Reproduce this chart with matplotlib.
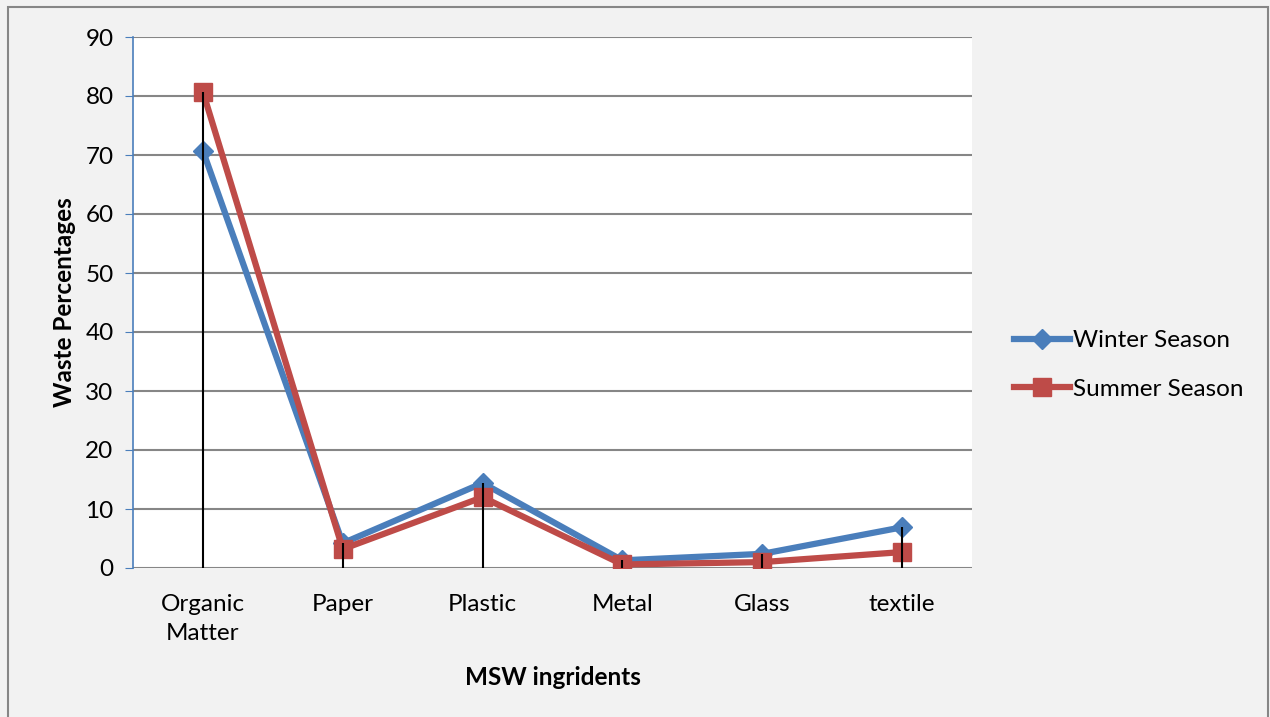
import matplotlib.pyplot as plt
import numpy as np
from matplotlib.patches import Rectangle

plt.rcParams["font.family"] = ["Lato", "DejaVu Sans"]

categories = ["Organic\nMatter", "Paper", "Plastic", "Metal", "Glass", "textile"]
winter = [70.7, 4.2, 14.4, 1.3, 2.4, 6.9]
summer = [80.7, 3.2, 12.0, 0.6, 1.0, 2.7]

blue = "#4a7ebb"
red = "#be4b48"
grid_gray = "#868686"
fs = 17.5

fig = plt.figure(figsize=(12.7, 7.17), dpi=100)
fig.patch.set_facecolor("#f2f2f2")
# outer chart border
fig.patches.append(Rectangle((8 / 1270, -0.05), 1260 / 1270, 1.05 - 7 / 717,
                             transform=fig.transFigure, fill=False,
                             edgecolor=grid_gray, linewidth=1.5))

ax = fig.add_axes([133 / 1270, 1 - 568 / 717, (972 - 133) / 1270, (568 - 37) / 717])
ax.set_facecolor("white")

x = np.arange(len(categories)) + 0.5
ax.plot(x, winter, color=blue, lw=4.5, marker="D", ms=10, label="Winter Season", zorder=3)
ax.plot(x, summer, color=red, lw=4.5, marker="s", ms=13, label="Summer Season", zorder=4)
# drop lines from the higher series down to the axis
ax.vlines(x, 0, np.maximum(winter, summer), color="black", lw=1.5, zorder=5)

ax.set_xlim(0, len(categories))
ax.set_ylim(0, 90)
ax.set_yticks(range(0, 91, 10))
ax.set_xticks(x)
ax.set_xticklabels(categories, fontsize=fs, linespacing=1.45)
ax.tick_params(axis="y", labelsize=fs, length=6, color=blue, pad=8)
ax.tick_params(axis="x", length=0, pad=19)
ax.grid(axis="y", color=grid_gray, lw=1.5)
ax.set_axisbelow(True)
for s in ["top", "right", "bottom"]:
    ax.spines[s].set_visible(False)
ax.spines["left"].set_color(blue)
ax.spines["left"].set_linewidth(1.2)

ax.set_xlabel("MSW ingridents", fontsize=fs, fontweight="bold", labelpad=16)
ax.set_ylabel("Waste Percentages", fontsize=fs, fontweight="bold", labelpad=7)

fig.legend(loc="center left", bbox_to_anchor=(992 / 1270, 1 - 365 / 717),
           frameon=False, fontsize=fs, handlelength=2.3, labelspacing=1.15,
           handletextpad=0.15)

fig.savefig("out.png", dpi=100, facecolor=fig.get_facecolor())
